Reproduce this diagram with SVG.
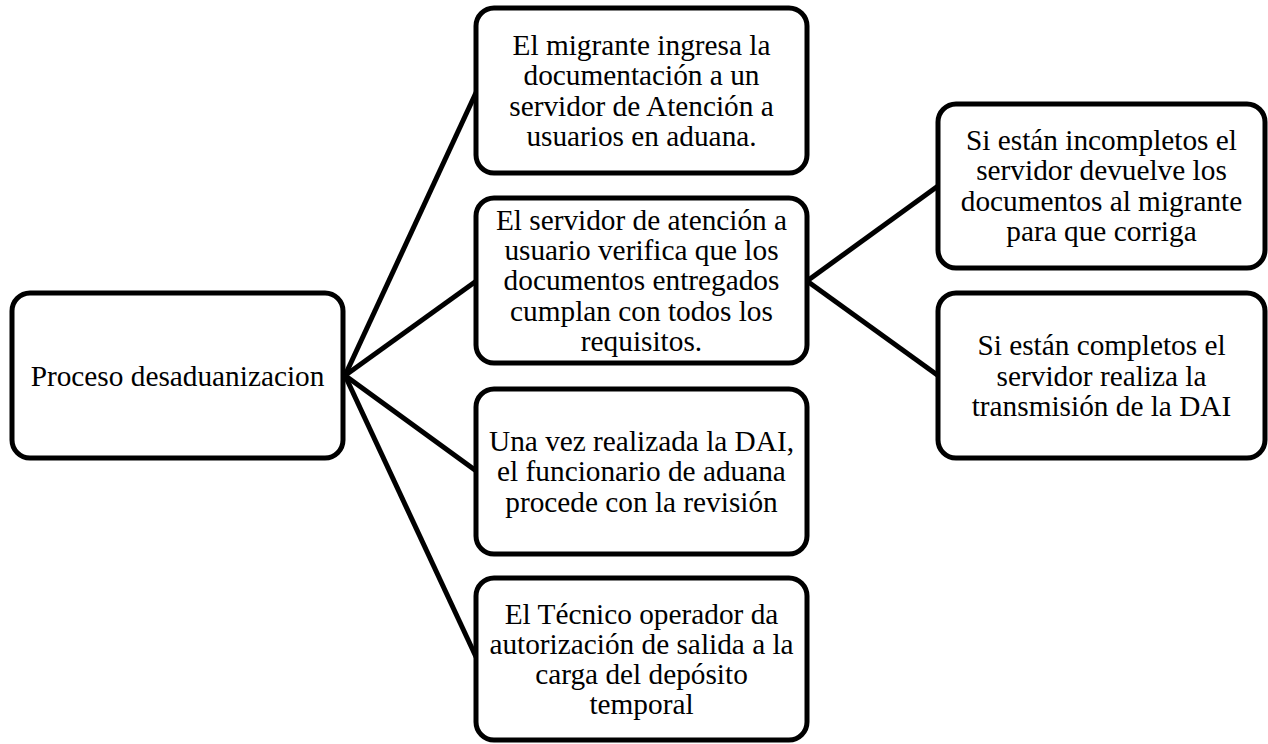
<svg xmlns="http://www.w3.org/2000/svg" width="1268" height="744" viewBox="0 0 1268 744">
<style>
.box{fill:#fff;stroke:#000;stroke-width:5}
.t{font-family:"Liberation Serif","Times New Roman",serif;font-size:29.3px;fill:#000;text-anchor:middle}
.c{stroke:#000;stroke-width:5;fill:none}
</style>
<rect width="1268" height="744" fill="#fff"/>
<g id="connectors">
<line class="c" x1="345" y1="375.5" x2="477" y2="90.5"/>
<line class="c" x1="345" y1="375.5" x2="477" y2="280.5"/>
<line class="c" x1="345" y1="375.5" x2="477" y2="471.5"/>
<line class="c" x1="345" y1="375.5" x2="477" y2="659"/>
<line class="c" x1="807" y1="281" x2="938" y2="186"/>
<line class="c" x1="807" y1="281" x2="938" y2="375.5"/>
</g>
<g id="n0">
<rect class="box" x="12" y="293" width="331" height="165" rx="18"/>
<text class="t" x="177.5" y="385.5">Proceso desaduanizacion</text>
</g>
<g id="n1">
<rect class="box" x="476" y="8" width="331" height="165" rx="18"/>
<text class="t" x="641.5"><tspan x="641.5" y="55.2">El migrante ingresa la</tspan><tspan x="641.5" y="85.4">documentación a un</tspan><tspan x="641.5" y="115.6">servidor de Atención a</tspan><tspan x="641.5" y="145.8">usuarios en aduana.</tspan></text>
</g>
<g id="n2">
<rect class="box" x="476" y="198" width="331" height="165" rx="18"/>
<text class="t" x="641.5"><tspan x="641.5" y="230">El servidor de atención a</tspan><tspan x="641.5" y="260.2">usuario verifica que los</tspan><tspan x="641.5" y="290.4">documentos entregados</tspan><tspan x="641.5" y="320.6">cumplan con todos los</tspan><tspan x="641.5" y="350.8">requisitos.</tspan></text>
</g>
<g id="n3">
<rect class="box" x="476" y="389" width="331" height="165" rx="18"/>
<text class="t" x="641.5"><tspan x="641.5" y="451.2">Una vez realizada la DAI,</tspan><tspan x="641.5" y="481.4">el funcionario de aduana</tspan><tspan x="641.5" y="511.6">procede con la revisión</tspan></text>
</g>
<g id="n4">
<rect class="box" x="476" y="578" width="331" height="162" rx="18"/>
<text class="t" x="641.5"><tspan x="641.5" y="623.7">El Técnico operador da</tspan><tspan x="641.5" y="653.9">autorización de salida a la</tspan><tspan x="641.5" y="684.1">carga del depósito</tspan><tspan x="641.5" y="714.3">temporal</tspan></text>
</g>
<g id="n5">
<rect class="box" x="938" y="104" width="327" height="164" rx="18"/>
<text class="t" x="1101.5"><tspan x="1101.5" y="150.2">Si están incompletos el</tspan><tspan x="1101.5" y="180.4">servidor devuelve los</tspan><tspan x="1101.5" y="210.6">documentos al migrante</tspan><tspan x="1101.5" y="240.8">para que corriga</tspan></text>
</g>
<g id="n6">
<rect class="box" x="938" y="293" width="327" height="165" rx="18"/>
<text class="t" x="1101.5"><tspan x="1101.5" y="355.3">Si están completos el</tspan><tspan x="1101.5" y="385.5">servidor realiza la</tspan><tspan x="1101.5" y="415.7">transmisión de la DAI</tspan></text>
</g>
</svg>
